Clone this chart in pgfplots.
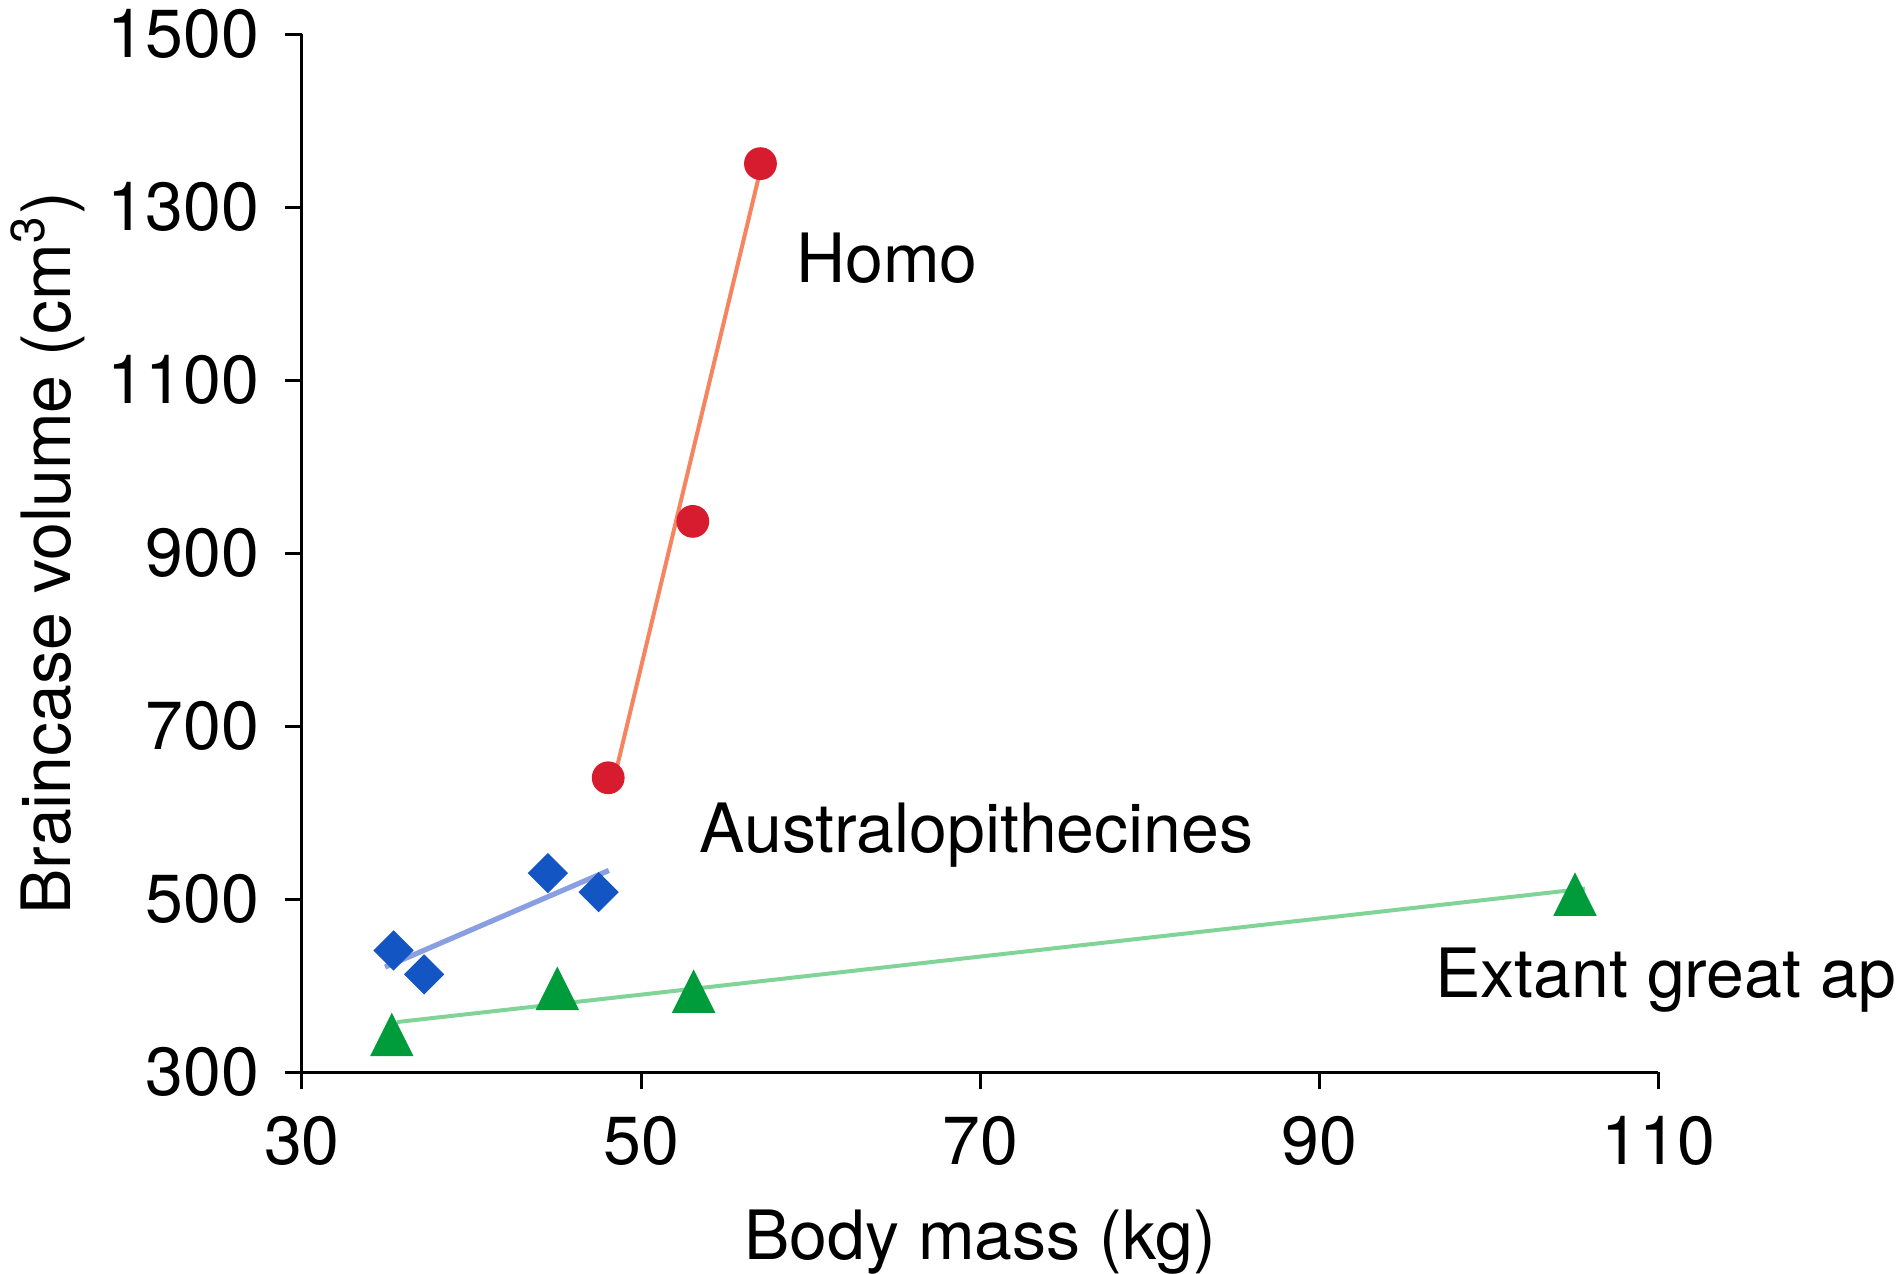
\documentclass[border=0pt]{standalone}
\usepackage{pgfplots}
\pgfplotsset{compat=1.18}
\usepackage{fontspec}
\setmainfont{TeX Gyre Heros}
\definecolor{homoM}{RGB}{215,28,48}
\definecolor{homoL}{RGB}{245,132,95}
\definecolor{austM}{RGB}{18,85,195}
\definecolor{austL}{RGB}{138,158,226}
\definecolor{apeM}{RGB}{0,155,58}
\definecolor{apeL}{RGB}{128,212,152}
\begin{document}
\begin{tikzpicture}[font=\fontsize{17}{20}\selectfont]
\begin{axis}[
  at={(0,0)}, anchor=south west,
  width=339.1pt, height=259.5pt, scale only axis,
  xmin=30, xmax=110, ymin=300, ymax=1500,
  axis x line=bottom, axis y line=left,
  x axis line style={-, line width=0.75pt},
  y axis line style={-, line width=0.75pt},
  xtick={30,50,70,90,110},
  ytick={300,500,700,900,1100,1300,1500},
  tick align=outside,
  major tick length=4.25pt,
  tick style={black, line width=0.75pt},
  /pgf/number format/assume math mode=true,
  /pgf/number format/set thousands separator={},
  xticklabel style={anchor=base, inner sep=0pt, yshift=-18.75pt},
  yticklabel style={anchor=east, inner sep=0pt, xshift=-6.25pt},
  xlabel={Body mass (kg)},
  ylabel={Braincase volume (cm\textsuperscript{3})},
  xlabel style={at={(axis description cs:0.5,-0.1798)}, anchor=base, inner sep=0pt},
  ylabel style={at={(axis description cs:-0.171,0.5)}, anchor=base, rotate=0, inner sep=0pt},
  clip=false,
]
% fit lines
\addplot[homoL, line width=1pt] coordinates {(48.6,654.7) (57.07,1346)};
\addplot[austL, line width=1.3pt] coordinates {(34.9,421.7) (48.1,533.5)};
\addplot[apeL, line width=1pt] coordinates {(35.6,358.2) (105.67,512.4)};
% data
\addplot[only marks, mark=*, mark size=3.9pt, homoM, mark options={draw=homoM, fill=homoM}]
  coordinates {(57.04,1350.6) (53.05,937) (48.06,640.6)};
\addplot[only marks, mark=square*, mark size=3.36pt, austM, mark options={rotate=45, draw=austM, fill=austM}]
  coordinates {(35.4,441) (37.2,413.3) (44.5,530.4) (47.5,508.4)};
\addplot[only marks, mark=triangle*, mark size=5.9pt, apeM, mark options={yscale=1.155, draw=apeM, fill=apeM}]
  coordinates {(35.3,335.4) (45.06,388.8) (53.1,385.5) (105.08,497.6)};
\node[anchor=base west, inner sep=0pt] at (axis cs:59.1,1213.6) {Homo};
\node[anchor=base west, inner sep=0pt] at (axis cs:53.4,554.7) {Australopithecines};
\node[anchor=base west, inner sep=0pt] at (axis cs:96.8,387) {Extant great apes};
\end{axis}
\pgfresetboundingbox
\path[use as bounding box] (-75.5pt,-50.4pt) rectangle (398.5pt,268.1pt);
\end{tikzpicture}
\end{document}
